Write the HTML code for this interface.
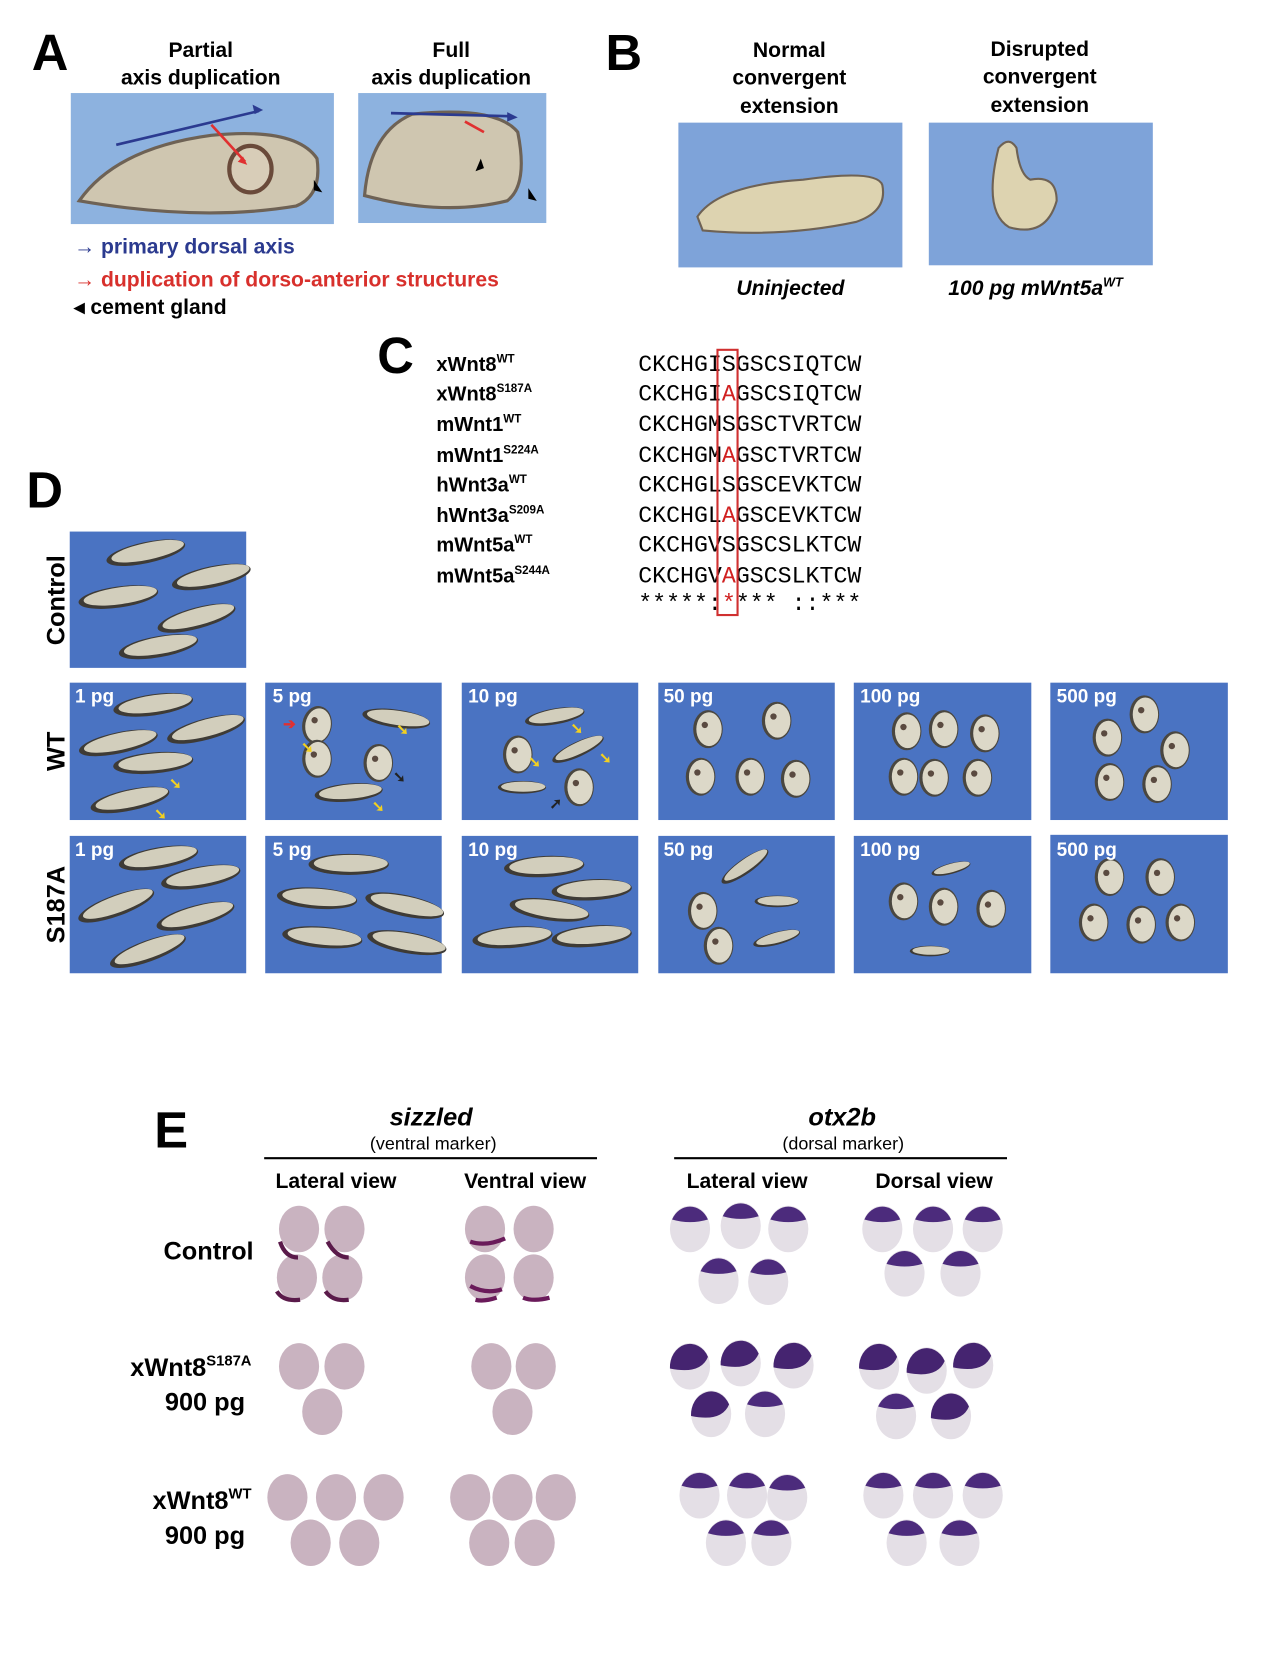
<!DOCTYPE html>
<html><head><meta charset="utf-8">
<style>
html,body{margin:0;padding:0;background:#fff;}
svg{display:block;font-family:"Liberation Sans",Arial,sans-serif;}
.b{font-weight:bold;}
</style></head><body>
<svg width="1268" height="1676" viewBox="0 0 1200 1586" xmlns="http://www.w3.org/2000/svg">
<defs>
<g id="tad"><ellipse cx="0" cy="0" rx="38" ry="10" fill="#3e3b36"/><ellipse cx="2" cy="-1" rx="35" ry="8" fill="#d2cebc"/></g>
<g id="clump"><ellipse cx="0" cy="0" rx="14" ry="18" fill="#4a4740"/><ellipse cx="1" cy="0" rx="12" ry="16" fill="#dcd8c8"/><circle cx="-3" cy="-4" r="3" fill="#5a4a40"/></g>
<g id="sz"><ellipse cx="0" cy="0" rx="19" ry="22" fill="#c9b3c0"/></g>
<g id="ot"><ellipse cx="0" cy="0" rx="19" ry="22" fill="#e4dfe6"/><path d="M-17,-9 A19,22 0 0 1 17,-9 Q0,-4 -17,-9Z" fill="#4c2b7c"/></g>
<g id="otb"><ellipse cx="0" cy="0" rx="19" ry="22" fill="#e4dfe6"/><path d="M-19,2 A19,22 0 0 1 17,-9 Q10,8 -19,2Z" fill="#452470"/></g>
</defs>
<rect width="1200" height="1586" fill="#fff"/>

<!-- A -->
<text x="30" y="66" font-size="48" class="b">A</text>
<text x="190" y="54" font-size="20" class="b" text-anchor="middle">Partial</text>
<text x="190" y="80" font-size="20" class="b" text-anchor="middle">axis duplication</text>
<text x="427" y="54" font-size="20" class="b" text-anchor="middle">Full</text>
<text x="427" y="80" font-size="20" class="b" text-anchor="middle">axis duplication</text>
<rect x="67" y="88" width="249" height="124" fill="#8db2df"/>
<path d="M75,190 Q110,140 200,128 Q280,120 300,150 Q305,185 280,195 Q190,210 75,190Z" fill="#cfc6b0" stroke="#6e6255" stroke-width="3"/>
<ellipse cx="237" cy="160" rx="20" ry="22" fill="#d8cdb8" stroke="#6a4a3a" stroke-width="4"/>
<line x1="110" y1="137" x2="245" y2="105" stroke="#2b3a90" stroke-width="2.5"/><path d="M249,104 l-10,-5 l2,9z" fill="#2b3a90"/>
<line x1="200" y1="118" x2="232" y2="153" stroke="#e03030" stroke-width="2.5"/><path d="M234,156 l-9,-3 l5,-5z" fill="#e03030"/>
<path d="M297,170 l8,12 l-8,-2z" fill="#000"/>
<rect x="339" y="88" width="178" height="123" fill="#8db2df"/>
<path d="M345,185 Q350,125 390,108 Q470,100 490,125 Q500,175 480,190 Q420,205 345,185Z" fill="#cfc6b0" stroke="#6e6255" stroke-width="3"/>
<line x1="370" y1="107" x2="485" y2="110" stroke="#2b3a90" stroke-width="2.5"/><path d="M490,111 l-10,-5 l0,9z" fill="#2b3a90"/>
<line x1="440" y1="115" x2="458" y2="125" stroke="#e03030" stroke-width="2.5"/>
<path d="M455,150 l-5,12 l8,-3z" fill="#000"/><path d="M500,178 l8,12 l-8,-2z" fill="#000"/>
<text x="70" y="240" font-size="20" class="b" fill="#2b3a8f">→ primary dorsal axis</text>
<text x="70" y="271" font-size="20" class="b" fill="#d8302c">→ duplication of dorso-anterior structures</text>
<text x="70" y="297" font-size="20" class="b">◂  cement gland</text>

<!-- B -->
<text x="573" y="66" font-size="48" class="b">B</text>
<text x="747" y="54" font-size="20" class="b" text-anchor="middle">Normal</text>
<text x="747" y="80" font-size="20" class="b" text-anchor="middle">convergent</text>
<text x="747" y="107" font-size="20" class="b" text-anchor="middle">extension</text>
<text x="984" y="53" font-size="20" class="b" text-anchor="middle">Disrupted</text>
<text x="984" y="79" font-size="20" class="b" text-anchor="middle">convergent</text>
<text x="984" y="106" font-size="20" class="b" text-anchor="middle">extension</text>
<rect x="642" y="116" width="212" height="137" fill="#7ea3d9"/>
<path d="M660,205 Q680,175 760,170 Q830,160 835,175 Q840,200 810,210 Q740,225 665,218Z" fill="#ddd3b0" stroke="#6e6255" stroke-width="2"/>
<rect x="879" y="116" width="212" height="135" fill="#7ea3d9"/>
<path d="M945,140 Q955,128 962,140 Q965,165 975,170 Q1000,165 1000,190 Q990,225 955,215 Q930,200 945,140Z" fill="#ddd3b0" stroke="#6e6255" stroke-width="2"/>
<text x="748" y="279" font-size="20" class="b" font-style="italic" text-anchor="middle">Uninjected</text>
<text x="980" y="279" font-size="20" class="b" font-style="italic" text-anchor="middle">100 pg mWnt5a<tspan font-size="12" dy="-8">WT</tspan></text>

<!-- C -->
<text x="357" y="353" font-size="48" class="b">C</text>
<g font-size="19" class="b">
<text x="413" y="351">xWnt8<tspan font-size="11" dy="-8">WT</tspan></text>
<text x="413" y="379">xWnt8<tspan font-size="11" dy="-8">S187A</tspan></text>
<text x="413" y="408">mWnt1<tspan font-size="11" dy="-8">WT</tspan></text>
<text x="413" y="437">mWnt1<tspan font-size="11" dy="-8">S224A</tspan></text>
<text x="413" y="465">hWnt3a<tspan font-size="11" dy="-8">WT</tspan></text>
<text x="413" y="494">hWnt3a<tspan font-size="11" dy="-8">S209A</tspan></text>
<text x="413" y="522">mWnt5a<tspan font-size="11" dy="-8">WT</tspan></text>
<text x="413" y="551">mWnt5a<tspan font-size="11" dy="-8">S244A</tspan></text>
</g>
<g font-family="Liberation Mono,monospace" font-size="22">
<text x="604" y="351">CKCHGISGSCSIQTCW</text>
<text x="604" y="379">CKCHGI<tspan fill="#d02020">A</tspan>GSCSIQTCW</text>
<text x="604" y="408">CKCHGMSGSCTVRTCW</text>
<text x="604" y="437">CKCHGM<tspan fill="#d02020">A</tspan>GSCTVRTCW</text>
<text x="604" y="465">CKCHGLSGSCEVKTCW</text>
<text x="604" y="494">CKCHGL<tspan fill="#d02020">A</tspan>GSCEVKTCW</text>
<text x="604" y="522">CKCHGVSGSCSLKTCW</text>
<text x="604" y="551">CKCHGV<tspan fill="#d02020">A</tspan>GSCSLKTCW</text>
<text x="604" y="577">*****:<tspan fill="#d02020">*</tspan>***  ::***</text>
</g>
<rect x="679" y="331" width="19" height="251" fill="none" stroke="#d03030" stroke-width="2"/>

<!-- D -->
<text x="25" y="480" font-size="48" class="b">D</text>
<text transform="translate(61,568) rotate(-90)" font-size="24" class="b" text-anchor="middle">Control</text>
<text transform="translate(61,711) rotate(-90)" font-size="24" class="b" text-anchor="middle">WT</text>
<text transform="translate(61,856) rotate(-90)" font-size="24" class="b" text-anchor="middle">S187A</text>

<g fill="#4a73c2">
<rect x="66" y="503" width="167" height="129"/>
<rect x="66" y="646" width="167" height="130"/><rect x="251" y="646" width="167" height="130"/><rect x="437" y="646" width="167" height="130"/><rect x="623" y="646" width="167" height="130"/><rect x="808" y="646" width="168" height="130"/><rect x="994" y="646" width="168" height="130"/>
<rect x="66" y="791" width="167" height="130"/><rect x="251" y="791" width="167" height="130"/><rect x="437" y="791" width="167" height="130"/><rect x="623" y="791" width="167" height="130"/><rect x="808" y="791" width="168" height="130"/><rect x="994" y="790" width="168" height="131"/>
</g>
<use href="#tad" transform="translate(138,523) rotate(-12)"/><use href="#tad" transform="translate(200,546) rotate(-12)"/><use href="#tad" transform="translate(112,565) rotate(-8)"/><use href="#tad" transform="translate(186,585) rotate(-15)"/><use href="#tad" transform="translate(150,612) rotate(-10)"/>
<use href="#tad" transform="translate(145,667) rotate(-8)"/><use href="#tad" transform="translate(195,690) rotate(-15)"/><use href="#tad" transform="translate(112,703) rotate(-12)"/><use href="#tad" transform="translate(145,722) rotate(-5)"/><use href="#tad" transform="translate(123,757) rotate(-12)"/>
<use href="#clump" transform="translate(300,686) rotate(10)"/><use href="#tad" transform="translate(375,680) rotate(8) scale(0.85)"/><use href="#clump" transform="translate(300,718)"/><use href="#clump" transform="translate(358,722)"/><use href="#tad" transform="translate(330,750) rotate(-5) scale(0.85)"/>
<use href="#tad" transform="translate(525,678) rotate(-10) scale(0.75)"/><use href="#clump" transform="translate(490,714)"/><use href="#tad" transform="translate(547,709) rotate(-25) scale(0.7)"/><use href="#tad" transform="translate(494,745) scale(0.6)"/><use href="#clump" transform="translate(548,745)"/>
<use href="#clump" transform="translate(670,690)"/><use href="#clump" transform="translate(735,682)"/><use href="#clump" transform="translate(663,735)"/><use href="#clump" transform="translate(710,735)"/><use href="#clump" transform="translate(753,737)"/>
<use href="#clump" transform="translate(858,692)"/><use href="#clump" transform="translate(893,690)"/><use href="#clump" transform="translate(932,694)"/><use href="#clump" transform="translate(884,736)"/><use href="#clump" transform="translate(925,736)"/><use href="#clump" transform="translate(855,735)"/>
<use href="#clump" transform="translate(1083,676)"/><use href="#clump" transform="translate(1048,698)"/><use href="#clump" transform="translate(1112,710)"/><use href="#clump" transform="translate(1050,740)"/><use href="#clump" transform="translate(1095,742)"/>
<use href="#tad" transform="translate(150,812) rotate(-10)"/><use href="#tad" transform="translate(190,830) rotate(-10)"/><use href="#tad" transform="translate(110,857) rotate(-20)"/><use href="#tad" transform="translate(185,867) rotate(-15)"/><use href="#tad" transform="translate(140,900) rotate(-20)"/>
<use href="#tad" transform="translate(330,818)"/><use href="#tad" transform="translate(300,850) rotate(4)"/><use href="#tad" transform="translate(383,857) rotate(12)"/><use href="#tad" transform="translate(305,887) rotate(5)"/><use href="#tad" transform="translate(385,892) rotate(10)"/>
<use href="#tad" transform="translate(515,820) rotate(-3)"/><use href="#tad" transform="translate(560,842) rotate(-3)"/><use href="#tad" transform="translate(520,861) rotate(8)"/><use href="#tad" transform="translate(485,887) rotate(-5)"/><use href="#tad" transform="translate(560,886) rotate(-5)"/>
<use href="#tad" transform="translate(705,820) rotate(-35) scale(0.7)"/><use href="#clump" transform="translate(665,862)"/><use href="#tad" transform="translate(735,853) scale(0.55)"/><use href="#clump" transform="translate(680,895)"/><use href="#tad" transform="translate(735,888) rotate(-15) scale(0.6)"/>
<use href="#tad" transform="translate(900,822) rotate(-15) scale(0.5)"/><use href="#clump" transform="translate(855,853)"/><use href="#clump" transform="translate(893,858)"/><use href="#clump" transform="translate(938,860)"/><use href="#tad" transform="translate(880,900) scale(0.5)"/>
<use href="#clump" transform="translate(1050,830)"/><use href="#clump" transform="translate(1098,830)"/><use href="#clump" transform="translate(1035,873)"/><use href="#clump" transform="translate(1080,875)"/><use href="#clump" transform="translate(1117,873)"/>

<g font-size="18" class="b" fill="#fff">
<text x="71" y="665">1 pg</text><text x="258" y="665">5 pg</text><text x="443" y="665">10 pg</text><text x="628" y="665">50 pg</text><text x="814" y="665">100 pg</text><text x="1000" y="665">500 pg</text>
<text x="71" y="810">1 pg</text><text x="258" y="810">5 pg</text><text x="443" y="810">10 pg</text><text x="628" y="810">50 pg</text><text x="814" y="810">100 pg</text><text x="1000" y="810">500 pg</text>
</g>
<g font-size="14" class="b">
<text x="160" y="746" fill="#f2d020">➘</text><text x="146" y="775" fill="#f2d020">➘</text>
<text x="268" y="690" fill="#e03030">➔</text><text x="375" y="695" fill="#f2d020">➘</text><text x="285" y="712" fill="#f2d020">➘</text><text x="372" y="740" fill="#222">➘</text><text x="352" y="768" fill="#f2d020">➘</text>
<text x="540" y="694" fill="#f2d020">➘</text><text x="567" y="722" fill="#f2d020">➘</text><text x="500" y="726" fill="#f2d020">➘</text><text x="520" y="765" fill="#222">➚</text>
</g>

<!-- E -->
<text x="146" y="1086" font-size="48" class="b">E</text>
<text x="408" y="1065" font-size="24" class="b" font-style="italic" text-anchor="middle">sizzled</text>
<text x="410" y="1088" font-size="17" text-anchor="middle">(ventral marker)</text>
<line x1="250" y1="1096" x2="565" y2="1096" stroke="#000" stroke-width="2"/>
<text x="797" y="1065" font-size="24" class="b" font-style="italic" text-anchor="middle">otx2b</text>
<text x="798" y="1088" font-size="17" text-anchor="middle">(dorsal marker)</text>
<line x1="638" y1="1096" x2="953" y2="1096" stroke="#000" stroke-width="2"/>
<g font-size="20" class="b" text-anchor="middle">
<text x="318" y="1124">Lateral view</text><text x="497" y="1124">Ventral view</text><text x="707" y="1124">Lateral view</text><text x="884" y="1124">Dorsal view</text>
</g>
<g font-size="24" class="b" text-anchor="end">
<text x="240" y="1192">Control</text>
<text x="238" y="1302">xWnt8<tspan font-size="14" dy="-10">S187A</tspan></text>
<text x="232" y="1335">900 pg</text>
<text x="238" y="1428">xWnt8<tspan font-size="14" dy="-10">WT</tspan></text>
<text x="232" y="1461">900 pg</text>
</g>
<use href="#sz" x="283" y="1163"/><use href="#sz" x="326" y="1163"/><use href="#sz" x="281" y="1209"/><use href="#sz" x="324" y="1209"/>
<use href="#sz" x="459" y="1163"/><use href="#sz" x="505" y="1163"/><use href="#sz" x="459" y="1209"/><use href="#sz" x="505" y="1209"/>
<path d="M265,1175 Q270,1190 282,1190 M262,1222 Q268,1232 284,1230 M310,1175 Q318,1190 330,1190 M308,1222 Q315,1232 330,1230" stroke="#5a1a4a" stroke-width="4" fill="none"/>
<path d="M445,1175 Q460,1180 478,1172 M445,1217 Q460,1225 475,1220 M495,1228 Q505,1232 520,1228 M450,1230 Q458,1232 470,1228" stroke="#6a1a5a" stroke-width="4" fill="none"/>
<use href="#ot" x="653" y="1163"/><use href="#ot" x="701" y="1160"/><use href="#ot" x="746" y="1163"/><use href="#ot" x="680" y="1212"/><use href="#ot" x="727" y="1213"/>
<use href="#ot" x="835" y="1163"/><use href="#ot" x="883" y="1163"/><use href="#ot" x="930" y="1163"/><use href="#ot" x="856" y="1205"/><use href="#ot" x="909" y="1205"/>
<use href="#sz" x="283" y="1293"/><use href="#sz" x="326" y="1293"/><use href="#sz" x="305" y="1336"/>
<use href="#sz" x="465" y="1293"/><use href="#sz" x="507" y="1293"/><use href="#sz" x="485" y="1336"/>
<use href="#otb" x="653" y="1293"/><use href="#otb" x="701" y="1290"/><use href="#otb" x="751" y="1292"/><use href="#otb" x="673" y="1338"/><use href="#ot" x="724" y="1338"/>
<use href="#otb" x="832" y="1293"/><use href="#otb" x="877" y="1297"/><use href="#otb" x="921" y="1292"/><use href="#ot" x="848" y="1340"/><use href="#otb" x="900" y="1340"/>
<use href="#sz" x="272" y="1417"/><use href="#sz" x="318" y="1417"/><use href="#sz" x="363" y="1417"/><use href="#sz" x="294" y="1460"/><use href="#sz" x="340" y="1460"/>
<use href="#sz" x="445" y="1417"/><use href="#sz" x="485" y="1417"/><use href="#sz" x="526" y="1417"/><use href="#sz" x="463" y="1460"/><use href="#sz" x="506" y="1460"/>
<use href="#ot" x="662" y="1415"/><use href="#ot" x="707" y="1415"/><use href="#ot" x="745" y="1417"/><use href="#ot" x="687" y="1460"/><use href="#ot" x="730" y="1460"/>
<use href="#ot" x="836" y="1415"/><use href="#ot" x="883" y="1415"/><use href="#ot" x="930" y="1415"/><use href="#ot" x="858" y="1460"/><use href="#ot" x="908" y="1460"/>
</svg>
</body></html>
